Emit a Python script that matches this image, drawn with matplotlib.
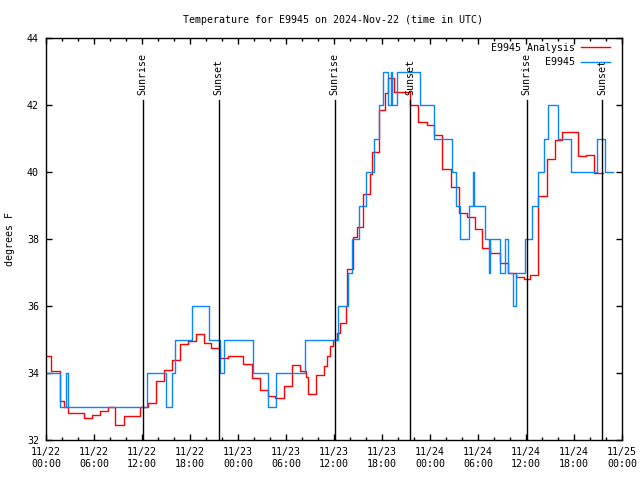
import matplotlib
matplotlib.use('Agg')
import matplotlib.pyplot as plt
from matplotlib.ticker import MultipleLocator

# hours since 2024-11-22 00:00 UTC
analysis_hours = [0, 0.6, 1.75, 2.25, 2.75, 4.75, 5.7, 6.75, 7.75, 8.6, 9.7, 11.75,
                  12.75, 13.75, 14.75, 15.75, 16.75, 17.75, 18.7, 19.7, 20.6, 21.7,
                  22.7, 24.6, 25.7, 26.75, 27.75, 28.6, 29.7, 30.75, 31.75, 32.5,
                  32.7, 33.75, 34.75, 35.1, 35.5, 35.9, 36.4, 36.75, 37.45, 37.6,
                  38.4, 38.9, 39.6, 40.5, 40.75, 41.6, 42.4, 42.75, 43.5, 45.5,
                  46.5, 47.6, 48.5, 49.55, 50.6, 51.6, 52.6, 53.6, 54.55, 55.55,
                  56.7, 57.75, 58.75, 59.8, 60.55, 61.55, 62.6, 63.6, 64.55, 66.5,
                  67.5, 68.55, 69.6]
analysis_temps = [34.52, 34.07, 33.15, 33.0, 32.8, 32.65, 32.75, 32.87, 33.0, 32.45,
                  32.72, 33.0, 33.1, 33.76, 34.08, 34.4, 34.86, 34.96, 35.15, 34.9,
                  34.74, 34.45, 34.5, 34.28, 33.84, 33.5, 33.3, 33.25, 33.6, 34.23,
                  34.07, 33.87, 33.36, 33.93, 34.2, 34.5, 34.8, 35.0, 35.2, 35.48,
                  36.0, 37.1, 38.05, 38.35, 39.35, 39.95, 40.6, 41.85, 42.35, 42.8,
                  42.4, 42.0, 41.5, 41.4, 41.1, 40.1, 39.56, 38.77, 38.67, 38.29,
                  37.72, 37.57, 37.27, 36.99, 36.86, 36.8, 36.93, 39.27, 40.4, 40.96,
                  41.2, 40.48, 40.5, 39.96, 39.96]

obs_hours = [0, 1.8, 2.5, 2.75, 12.6, 15.0, 15.75, 16.1, 18.2, 20.4, 21.75, 22.25,
             25.9, 27.75, 28.75, 32.4, 36.5, 37.7, 38.25, 39.1, 40.0, 41.0, 41.6,
             42.15, 42.8, 43.1, 43.3, 43.9, 46.75, 48.5, 50.75, 51.25, 51.8, 52.9,
             53.4, 53.55, 54.9, 55.4, 55.55, 56.75, 57.4, 57.7, 58.4, 58.8, 59.9,
             60.7, 61.45, 62.2, 62.7, 64.0, 65.6, 68.9, 69.9, 70.9]
obs_temps = [34, 33, 34, 33, 34, 33, 34, 35, 36, 35, 34, 35,
             34, 33, 34, 35, 36, 37, 38, 39, 40, 41, 42,
             43, 42, 43, 42, 43, 42, 41, 40, 39, 38, 39,
             40, 39, 38, 37, 38, 37, 38, 37, 36, 37, 38,
             39, 40, 41, 42, 41, 40, 41, 40, 40]

sun_names = ['Sunrise', 'Sunset', 'Sunrise', 'Sunset', 'Sunrise', 'Sunset']
sun_hours = [12.1, 21.6, 36.1, 45.5, 60.1, 69.5]

tick_hours = list(range(0, 73, 6))
tick_labels = ['11/22\n00:00', '11/22\n06:00', '11/22\n12:00', '11/22\n18:00',
               '11/23\n00:00', '11/23\n06:00', '11/23\n12:00', '11/23\n18:00',
               '11/24\n00:00', '11/24\n06:00', '11/24\n12:00', '11/24\n18:00',
               '11/25\n00:00']

plt.rcParams['font.family'] = 'DejaVu Sans Mono'
plt.rcParams['font.size'] = 7.2

fig = plt.figure(figsize=(6.4, 4.8), dpi=100)
ax = fig.add_axes([46 / 640, 1 - 440 / 480, 576 / 640, 402 / 480])

ax.plot(analysis_hours, analysis_temps, drawstyle='steps-post', color='#ff0000',
        lw=1.0, label='E9945 Analysis')
ax.plot(obs_hours, obs_temps, drawstyle='steps-post', color='#0a84ff',
        lw=1.0, label='E9945')

for name, h in zip(sun_names, sun_hours):
    ax.axvline(h, ymin=0, ymax=0.846, color='black', lw=1.0)
    ax.text(h, 0.858, name, transform=ax.get_xaxis_transform(), rotation=90,
            ha='center', va='bottom')

ax.set_xlim(0, 72)
ax.set_ylim(32, 44)
ax.set_xticks(tick_hours)
ax.set_xticklabels(tick_labels)
ax.xaxis.set_minor_locator(MultipleLocator(2))
ax.set_yticks(range(32, 45, 2))
ax.tick_params(which='both', direction='in', top=True, right=True, width=1.0)
ax.tick_params(which='major', length=4)
ax.tick_params(which='minor', length=2)
ax.tick_params(axis='x', pad=5)
ax.tick_params(axis='y', pad=5)
for s in ax.spines.values():
    s.set_linewidth(1.0)

ax.legend(loc='upper right', bbox_to_anchor=(0.979, 0.988), frameon=False,
          markerfirst=False, borderpad=0, borderaxespad=0, handlelength=2.9,
          handletextpad=0.6, labelspacing=0.45)

fig.text(333 / 640, 1 - 20 / 480, 'Temperature for E9945 on 2024-Nov-22 (time in UTC)',
         ha='center', va='center')
fig.text(10 / 640, 1 - 239 / 480, 'degrees F', rotation=90, ha='center', va='center')

fig.savefig('out.png', dpi=100)
